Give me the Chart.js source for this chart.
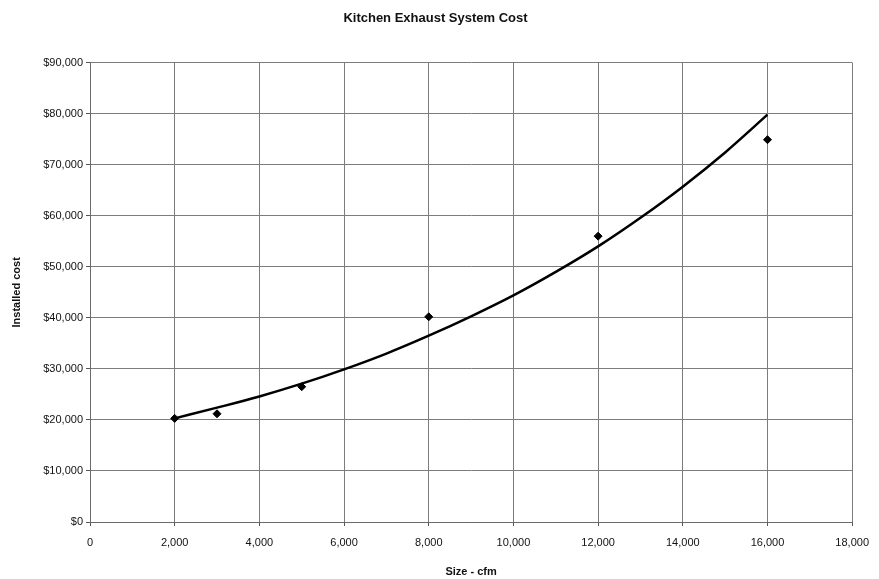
<!DOCTYPE html>
<html>
<head>
<meta charset="utf-8">
<script src="https://cdn.jsdelivr.net/npm/chart.js@4"></script>
<style>
  html, body { margin: 0; padding: 0; background: #fff; }
  #wrap { width: 879px; height: 579px; }
</style>
</head>
<body>
<div id="wrap"><canvas id="costChart"></canvas></div>
<script>
// measured points (size in cfm, installed cost in $)
const sizes = [2000, 3000, 5000, 8000, 12000, 16000];
const costs = [20300, 21200, 26500, 40200, 56000, 74900];

// trend curve, every 1,000 cfm
const trendSizes = [2000, 3000, 4000, 5000, 6000, 7000, 8000, 9000, 10000, 11000, 12000, 13000, 14000, 15000, 16000];
const trendCosts = [20300, 22400, 24600, 27100, 29900, 33000, 36500, 40300, 44400, 49000, 54000, 59600, 65700, 72400, 79800];

const xTicks = [0, 2000, 4000, 6000, 8000, 10000, 12000, 14000, 16000, 18000];
const yTicks = [0, 10000, 20000, 30000, 40000, 50000, 60000, 70000, 80000, 90000];

const ctx = document.getElementById('costChart').getContext('2d');
const font = 'Liberation Sans, Arial, sans-serif';

new Chart(ctx, {
    type: 'scatter',
    data: {
        datasets: [{
            label: 'Trend',
            data: trendSizes.map((x, i) => ({ x: x, y: trendCosts[i] })),
            showLine: true,
            borderColor: '#000',
            borderWidth: 2.5,
            pointRadius: 0,
            cubicInterpolationMode: 'monotone',
            fill: false
        }, {
            label: 'Cost',
            data: sizes.map((x, i) => ({ x: x, y: costs[i] })),
            pointStyle: 'rectRot',
            pointRadius: 4,
            backgroundColor: '#000',
            borderColor: '#000',
            borderWidth: 1
        }]
    },
    options: {
        responsive: true,
        maintainAspectRatio: false,
        animation: false,
        layout: { padding: { left: 10, right: 18, top: 0, bottom: 0 } },
        scales: {
            x: {
                type: 'linear',
                min: 0,
                max: 18000,
                afterBuildTicks: (s) => { s.ticks = xTicks.map(v => ({ value: v })); },
                afterFit: (s) => { s.height = 57; },
                grid: { color: '#7c7c7c', lineWidth: 1, tickLength: 4, tickColor: '#555' },
                border: { color: '#6a6a6a', width: 1 },
                ticks: {
                    color: '#111',
                    font: { family: font, size: 11 },
                    padding: 10,
                    maxRotation: 0,
                    callback: (v) => v.toLocaleString('en-US')
                },
                title: {
                    display: true,
                    text: 'Size - cfm',
                    color: '#111',
                    font: { family: font, size: 11, weight: 'bold' },
                    padding: { top: 4, bottom: 0 }
                }
            },
            y: {
                min: 0,
                max: 90000,
                afterBuildTicks: (s) => { s.ticks = yTicks.map(v => ({ value: v })); },
                afterFit: (s) => { s.width = 80; },
                grid: { color: '#7c7c7c', lineWidth: 1, tickLength: 4, tickColor: '#555' },
                border: { color: '#6a6a6a', width: 1 },
                ticks: {
                    color: '#111',
                    font: { family: font, size: 11 },
                    padding: 3,
                    callback: (v) => '$' + v.toLocaleString('en-US')
                },
                title: {
                    display: true,
                    text: 'Installed cost',
                    color: '#111',
                    font: { family: font, size: 11, weight: 'bold' },
                    padding: { top: 0, bottom: 4 }
                }
            }
        },
        plugins: {
            legend: { display: false },
            tooltip: { enabled: false },
            title: {
                display: true,
                text: 'Kitchen Exhaust System Cost',
                color: '#111',
                font: { family: font, size: 13, weight: 'bold' },
                padding: { top: 11, bottom: 36 }
            }
        }
    }
});
</script>
</body>
</html>
